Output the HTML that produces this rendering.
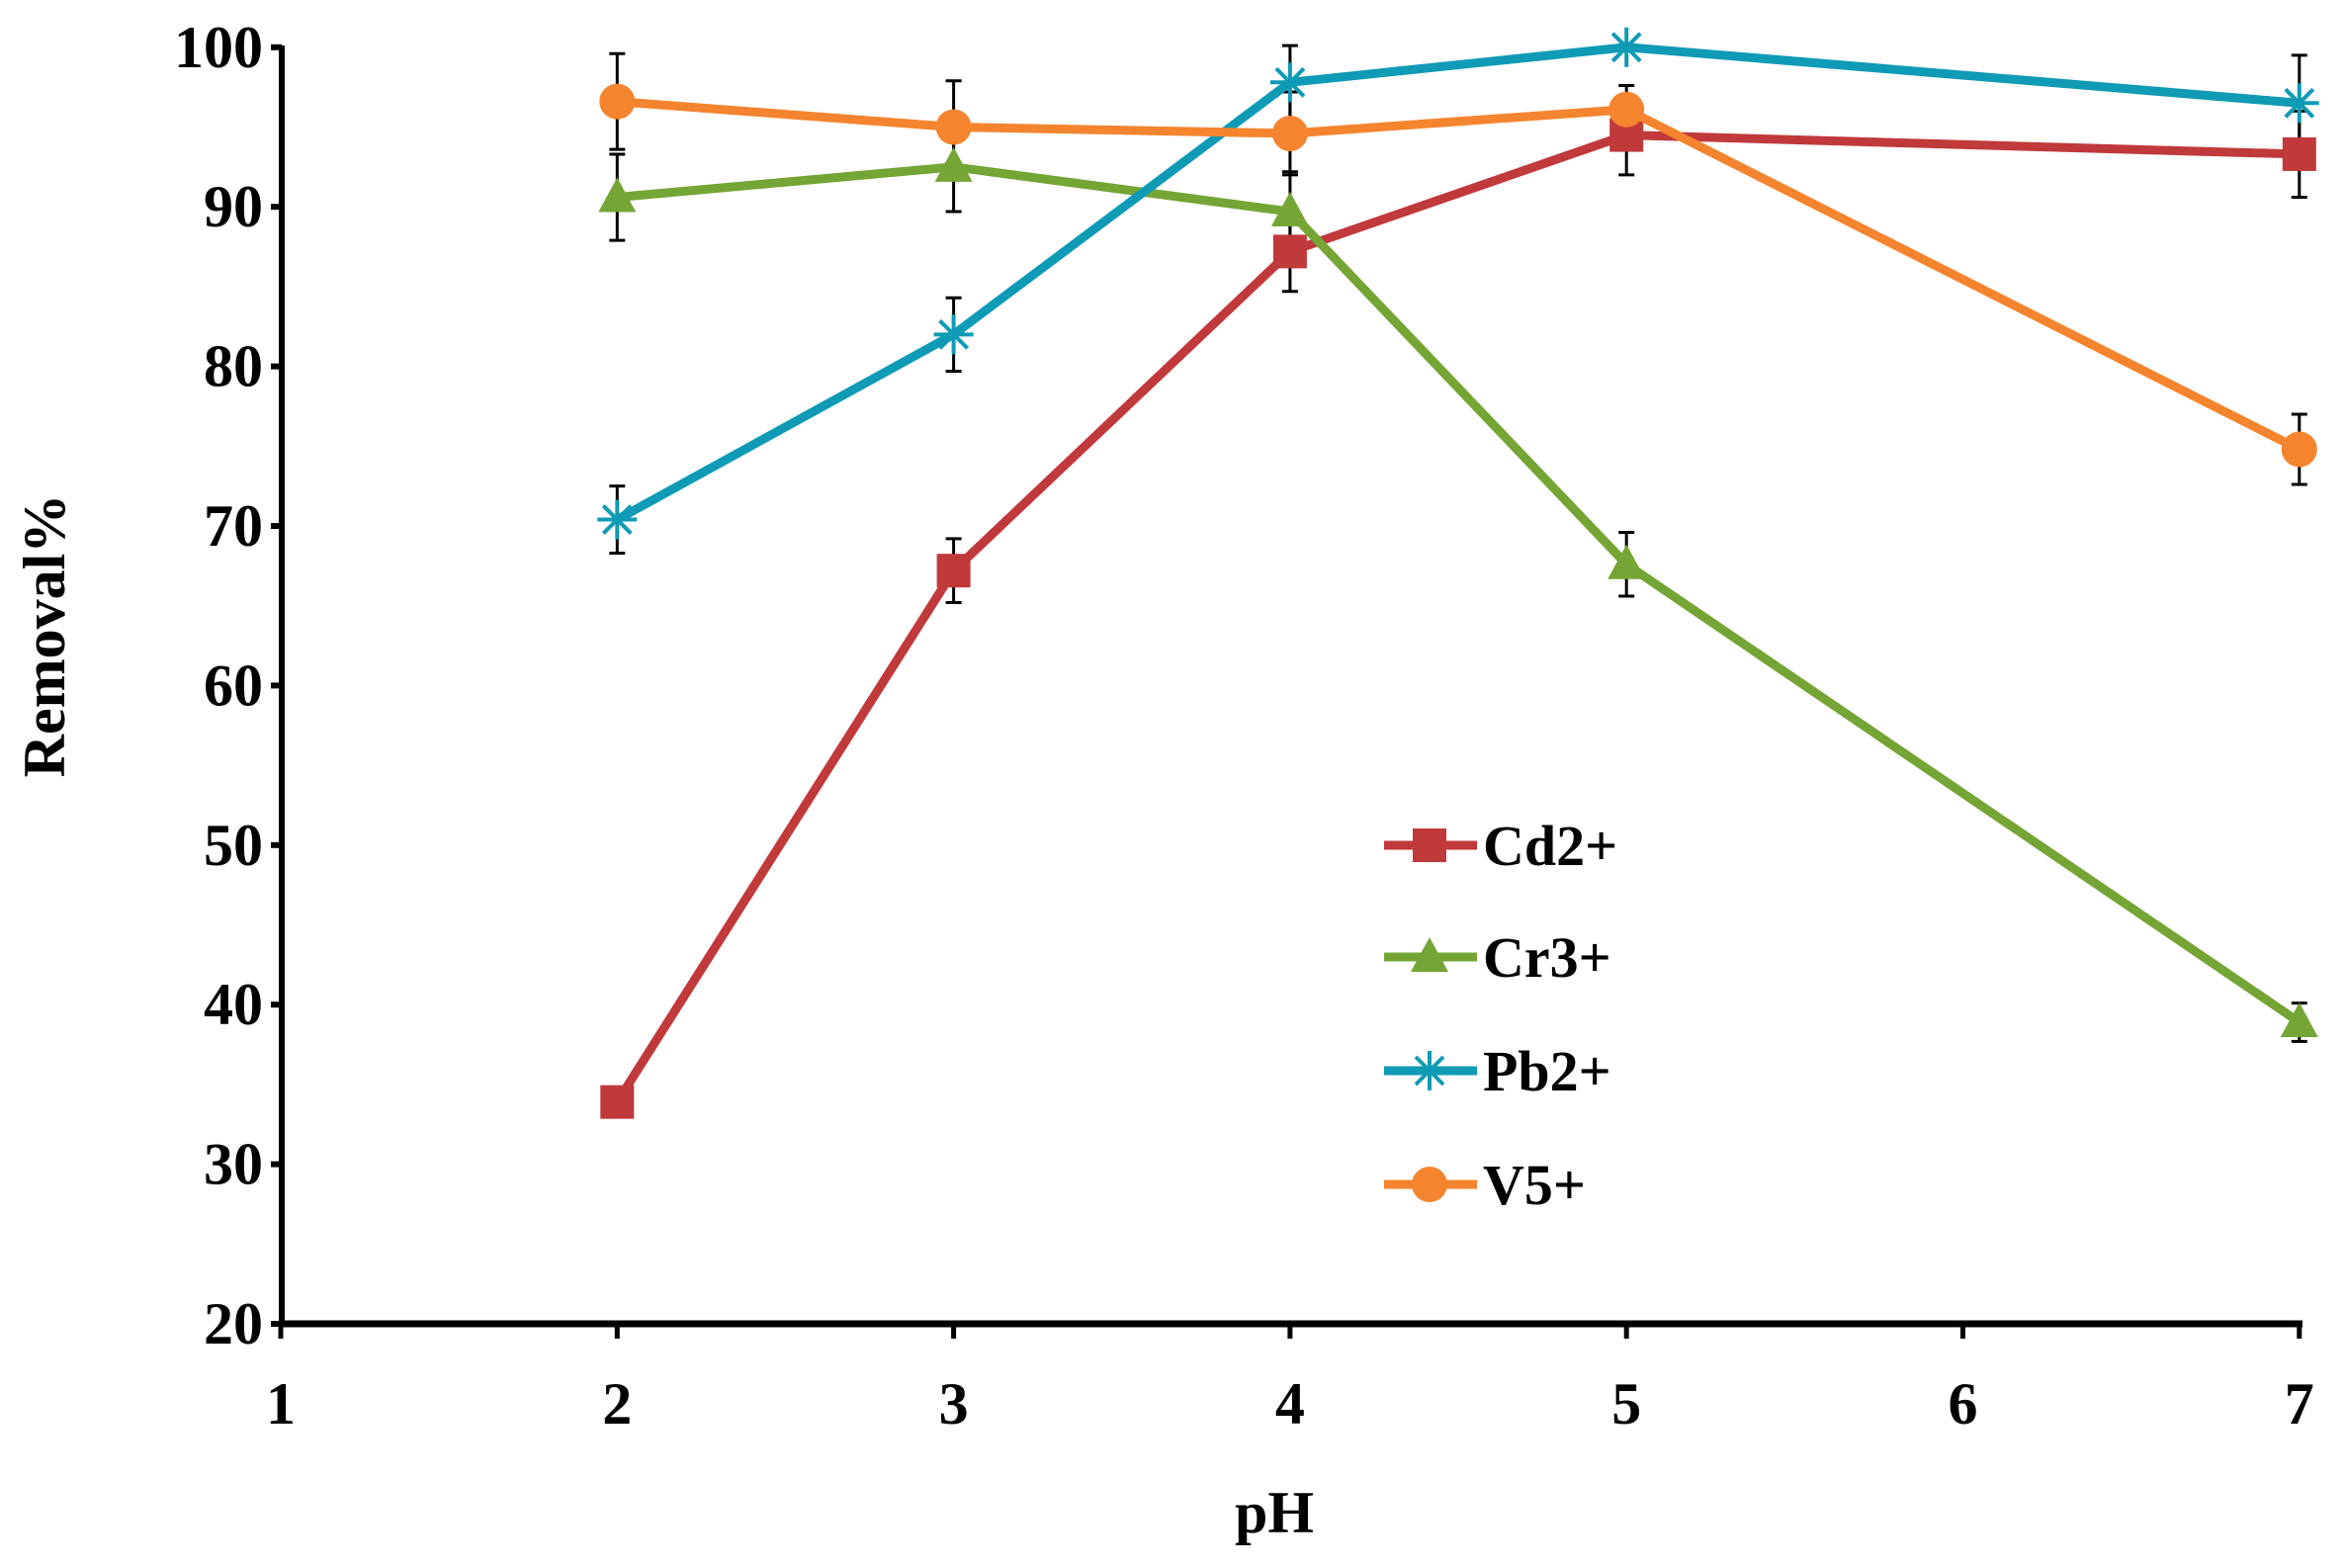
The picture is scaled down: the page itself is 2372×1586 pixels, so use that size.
<!DOCTYPE html>
<html><head><meta charset="utf-8"><style>
html,body{margin:0;padding:0;background:#fff}
svg text{font-family:"Liberation Serif",serif;font-weight:bold;fill:#000}
</style></head><body>
<svg id="s" width="2372" height="1581" viewBox="0 0 2372 1581" xmlns="http://www.w3.org/2000/svg"></svg>
<script>
const X=v=>284+(v-1)*340.3, Y=v=>1339-(v-20)*16.14;
let h='';
h+=`<line x1="285" y1="46" x2="285" y2="1341" stroke="#000" stroke-width="6"/>`;
h+=`<line x1="282" y1="1339" x2="2329" y2="1339" stroke="#000" stroke-width="7"/>`;
for(let v=20;v<=100;v+=10){h+=`<line x1="274" y1="${Y(v)}" x2="285" y2="${Y(v)}" stroke="#000" stroke-width="6"/>`;
h+=`<text x="266" y="${Y(v)+20}" font-size="60" text-anchor="end">${v}</text>`;}
for(let v=1;v<=7;v++){h+=`<line x1="${X(v)}" y1="1339" x2="${X(v)}" y2="1354" stroke="#000" stroke-width="5"/>`;
h+=`<text x="${X(v)}" y="1440" font-size="60" text-anchor="middle">${v}</text>`;}
h+=`<text x="1289" y="1550" font-size="60" text-anchor="middle">pH</text>`;
h+=`<text transform="translate(65,643) rotate(-90)" font-size="60" text-anchor="middle">Removal%</text>`;
const S=[
 {c:'#c0393b',m:'sq',d:[[2,33.9,0],[3,67.2,2],[4,87.2,2.5],[5,94.5,2.5],[7,93.3,2.7]]},
 {c:'#74a535',m:'tri',d:[[2,90.6,2.7],[3,92.5,2.8],[4,89.7,2.5],[5,67.6,2],[7,38.9,1.2]]},
 {c:'#0f9ab5',m:'star',d:[[2,70.4,2.1],[3,82,2.3],[4,97.8,2.3],[5,100,0],[7,96.5,3]]},
 {c:'#f4842e',m:'circ',d:[[2,96.6,3],[3,95,2.9],[4,94.6,2.6],[5,96.1,1.5],[7,74.8,2.2]]}];
function mk(m,x,y,c){
 if(m=='sq')return `<rect x="${x-17}" y="${y-17}" width="34" height="34" fill="${c}"/>`;
 if(m=='tri')return `<polygon points="${x},${y-20} ${x+19},${y+15} ${x-19},${y+15}" fill="${c}"/>`;
 if(m=='circ')return `<circle cx="${x}" cy="${y}" r="18" fill="${c}"/>`;
 let r=20;return `<g stroke="${c}" stroke-width="4"><line x1="${x-r}" y1="${y}" x2="${x+r}" y2="${y}"/><line x1="${x}" y1="${y-r}" x2="${x}" y2="${y+r}"/><line x1="${x-14}" y1="${y-14}" x2="${x+14}" y2="${y+14}"/><line x1="${x-14}" y1="${y+14}" x2="${x+14}" y2="${y-14}"/></g>`;}
S.forEach(s=>{s.d.forEach(p=>{if(p[2]>0){const a=Y(p[1]+p[2]),b=Y(p[1]-p[2]),x=X(p[0]);
 h+=`<g stroke="#000" stroke-width="3"><line x1="${x}" y1="${a}" x2="${x}" y2="${b}"/><line x1="${x-8}" y1="${a}" x2="${x+8}" y2="${a}"/><line x1="${x-8}" y1="${b}" x2="${x+8}" y2="${b}"/></g>`;}});});
S.forEach(s=>{h+=`<polyline fill="none" stroke="${s.c}" stroke-width="9" points="${s.d.map(p=>X(p[0])+','+Y(p[1])).join(' ')}"/>`;
 s.d.forEach(p=>h+=mk(s.m,X(p[0]),Y(p[1]),s.c));});
const L=['Cd2+','Cr3+','Pb2+','V5+'],LY=[855,968,1083,1198];
S.forEach((s,i)=>{h+=`<line x1="1400" y1="${LY[i]}" x2="1494" y2="${LY[i]}" stroke="${s.c}" stroke-width="9"/>`+mk(s.m,1446,LY[i],s.c)+
 `<text x="1500" y="${LY[i]+20}" font-size="58">${L[i]}</text>`;});
document.getElementById('s').innerHTML=h;
</script>
</body></html>
